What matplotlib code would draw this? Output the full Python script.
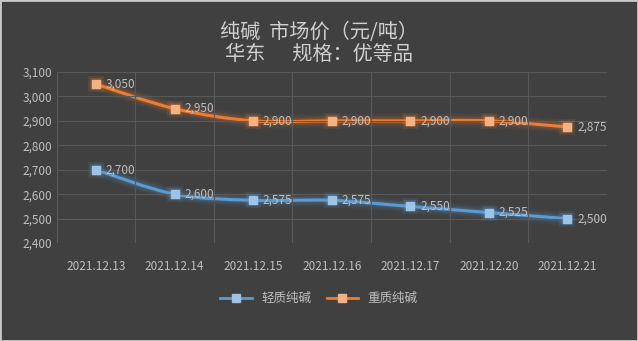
import matplotlib.pyplot as plt
from matplotlib.path import Path
from matplotlib.patches import PathPatch, Rectangle
import numpy as np

plt.rcParams['font.family'] = ['Noto Sans CJK SC', 'DejaVu Sans']

dates = ['2021.12.13', '2021.12.14', '2021.12.15', '2021.12.16',
         '2021.12.17', '2021.12.20', '2021.12.21']
light_ash = [2700, 2600, 2575, 2575, 2550, 2525, 2500]
dense_ash = [3050, 2950, 2900, 2900, 2900, 2900, 2875]

bg = '#404040'
txt = '#bfbfbf'


def smooth_path(x, y, t=0.5):
    # catmull-rom style bezier through the points, like excel's smoothed line
    x = np.asarray(x, float)
    y = np.asarray(y, float)
    verts = [(x[0], y[0])]
    codes = [Path.MOVETO]
    n = len(x)
    for i in range(n - 1):
        x0, y0 = (x[i - 1], y[i - 1]) if i > 0 else (x[i], y[i])
        x3, y3 = (x[i + 2], y[i + 2]) if i + 2 < n else (x[i + 1], y[i + 1])
        c1 = (x[i] + (x[i + 1] - x0) * t / 3, y[i] + (y[i + 1] - y0) * t / 3)
        c2 = (x[i + 1] - (x3 - x[i]) * t / 3, y[i + 1] - (y3 - y[i]) * t / 3)
        verts += [c1, c2, (x[i + 1], y[i + 1])]
        codes += [Path.CURVE4] * 3
    return Path(verts, codes)


fig = plt.figure(figsize=(6.38, 3.41), dpi=100, facecolor=bg)
ax = fig.add_axes([0.089, 0.287, 0.862, 0.502], facecolor=bg)
fig.patches.append(Rectangle((0, 0), 1, 1, transform=fig.transFigure,
                             fill=False, edgecolor='#c8c8c8', linewidth=2))

xs = np.arange(len(dates))
series = [(light_ash, '#5b9bd5', '#9dc3e6', '轻质纯碱'),
          (dense_ash, '#ed7d31', '#f4b183', '重质纯碱')]
for vals, line_c, mark_c, name in series:
    p = smooth_path(xs, vals)
    # soft glow under the line
    for lw, a in [(10, 0.06), (7, 0.1), (4.5, 0.15)]:
        ax.add_patch(PathPatch(p, fill=False, edgecolor=line_c, lw=lw, alpha=a,
                               capstyle='round', joinstyle='round'))
    ax.add_patch(PathPatch(p, fill=False, edgecolor=line_c, lw=2.2))
    for ms, a in [(11, 0.12), (8.5, 0.2)]:
        ax.plot(xs, vals, 's', color=line_c, markeredgewidth=0,
                markersize=ms, alpha=a, zorder=3)
    ax.plot(xs, vals, lw=0, marker='s', markersize=6,
            markerfacecolor=mark_c, markeredgecolor=mark_c, zorder=4)
    ax.plot([], [], color=line_c, lw=2, marker='s', markersize=6,
            markerfacecolor=mark_c, markeredgecolor=mark_c, label=name)
    for i, v in enumerate(vals):
        ax.annotate(f'{v:,}', (xs[i], v), xytext=(7, 0),
                    textcoords='offset points', va='center', ha='left',
                    color=txt, fontsize=8.5)

ax.set_xlim(-0.5, len(dates) - 0.5)
ax.set_ylim(2400, 3100)
ax.set_yticks(range(2400, 3101, 100))
ax.set_yticklabels([f'{v:,}' for v in range(2400, 3101, 100)])
ax.set_xticks(xs)
ax.set_xticklabels(dates)
ax.set_xticks(np.arange(-0.5, len(dates), 1), minor=True)
ax.grid(True, which='minor', axis='x', color='#595959', lw=0.8)
ax.grid(True, which='major', axis='y', color='#595959', lw=0.8)
ax.tick_params(which='both', length=0, colors=txt, labelsize=8.5)
ax.tick_params(axis='x', pad=12)
for s in ax.spines.values():
    s.set_visible(False)

fig.text(0.5, 0.905, '纯碱  市场价（元/吨）', ha='center', va='center',
         color='#d0d0d0', fontsize=14.5)
fig.text(0.5, 0.84, '华东      规格：优等品', ha='center', va='center',
         color='#d0d0d0', fontsize=14.5)

leg = fig.legend(loc='center', bbox_to_anchor=(0.5, 0.125), ncol=2,
                 frameon=False, fontsize=9, handlelength=2.5,
                 columnspacing=1.2)
for t in leg.get_texts():
    t.set_color(txt)

fig.savefig('out.png', dpi=100, facecolor=bg)
